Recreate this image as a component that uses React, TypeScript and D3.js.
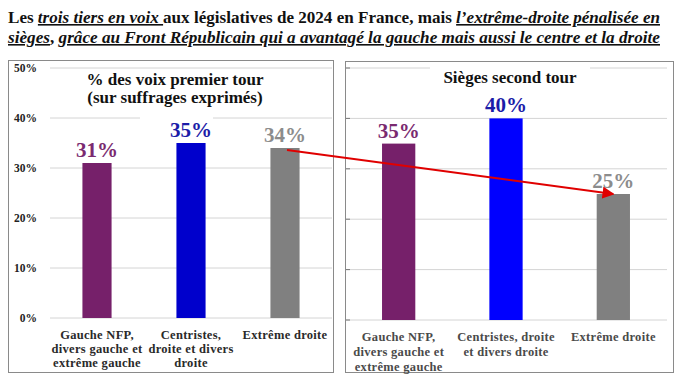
import React from "react";
import * as d3 from "d3";

const categoriesLeft = ["Gauche NFP, divers gauche et extrême gauche", "Centristes, droite et divers droite", "Extrême droite"];
const labelLinesLeft = [["Gauche NFP,", "divers gauche et", "extrême gauche"], ["Centristes,", "droite et divers", "droite"], ["Extrême droite"]];
const labelLinesRight = [["Gauche NFP,", "divers gauche et", "extrême gauche"], ["Centristes, droite", "et divers droite"], ["Extrême droite"]];
const votesFirstRound = [31, 35, 34];
const seatsSecondRound = [35, 40, 25];
const yTicks = [0, 10, 20, 30, 40, 50];
const barColorsLeft = ["#76206A", "#0000CC", "#808080"];
const barColorsRight = ["#76206A", "#0000FF", "#808080"];
const labelColors = ["#7A2A70", "#1C1CA8", "#8C8C8C"];

const SERIF = "'Liberation Serif', 'Times New Roman', Times, serif";
const tf = { fontFamily: SERIF };

export default function App() {
  const xL = d3.scaleBand<string>().domain(categoriesLeft).range([50, 332]).paddingInner(0.69).paddingOuter(0.345);
  const yL = d3.scaleLinear().domain([0, 50]).range([318, 68]);
  const xR = d3.scaleBand<string>().domain(categoriesLeft).range([345, 667]).paddingInner(0.69).paddingOuter(0.345);
  const yR = d3.scaleLinear().domain([0, 50]).range([320, 68]);

  const arrowStart = [xL("Extrême droite")! + xL.bandwidth() / 2 + 2, yL(votesFirstRound[2]) + 2];
  const arrowEnd = [xR("Extrême droite")! + xR.bandwidth() / 2, yR(seatsSecondRound[2])];

  return (
    <div style={{ position: "fixed", left: 0, top: 0 }}>
      <svg width={684} height={384} style={{ display: "block", background: "#fff", fontFamily: SERIF }}>
        <defs>
          <marker id="ah" viewBox="0 0 10 10" refX="9" refY="5" markerWidth="6" markerHeight="6" orient="auto">
            <path d="M0,0 L10,5 L0,10 z" fill="#E00000" />
          </marker>
        </defs>
        {/* Title */}
        <text x={8} y={23} fontSize={16} fontWeight="bold" fill="#111" style={tf} textLength={652} lengthAdjust="spacingAndGlyphs">
          <tspan>Les </tspan>
          <tspan fontStyle="italic" textDecoration="underline">trois tiers en voix </tspan>
          <tspan>aux législatives de 2024 en France, mais </tspan>
          <tspan fontStyle="italic" textDecoration="underline">l’extrême-droite pénalisée en</tspan>
        </text>
        <text x={8} y={43} fontSize={16} fontWeight="bold" fill="#111" style={tf} textLength={652} lengthAdjust="spacingAndGlyphs">
          <tspan fontStyle="italic" textDecoration="underline">sièges</tspan>
          <tspan>, </tspan>
          <tspan fontStyle="italic" textDecoration="underline">grâce au Front Républicain qui a avantagé la gauche mais aussi le centre et la droite</tspan>
        </text>

        {/* Left panel */}
        <rect x={8.5} y={60.5} width={325} height={312} fill="#fff" stroke="#8a8a8a" />
        {yTicks.map((t) => (
          <g key={"l" + t}>
            <line x1={50} x2={332} y1={yL(t)} y2={yL(t)} stroke="#d4d4d4" />
            <text x={37} y={yL(t) + 4} fontSize={11.5} fontWeight="bold" textAnchor="end" fill="#222" style={tf}>{t}%</text>
          </g>
        ))}
        <rect x={77} y={70} width={190} height={38} fill="#fff" />
        <rect x={140} y={108} width={73} height={14} fill="#fff" />
        <text x={175} y={85} fontSize={17} fontWeight="bold" textAnchor="middle" fill="#111" style={tf}>% des voix premier tour</text>
        <text x={175} y={103} fontSize={17} fontWeight="bold" textAnchor="middle" fill="#111" style={tf}>(sur suffrages exprimés)</text>
        {categoriesLeft.map((c, i) => (
          <g key={"lb" + i}>
            <rect x={xL(c)} y={yL(votesFirstRound[i])} width={xL.bandwidth()} height={yL(0) - yL(votesFirstRound[i])} fill={barColorsLeft[i]} />
            <text x={xL(c)! + xL.bandwidth() / 2} y={yL(votesFirstRound[i]) - 6} fontSize={21} fontWeight="bold" textAnchor="middle" fill={labelColors[i]} style={tf}>{votesFirstRound[i]}%</text>
            {labelLinesLeft[i].map((l, j) => (
              <text key={j} x={xL(c)! + xL.bandwidth() / 2} y={339 + j * 14} fontSize={12.5} fontWeight="bold" textAnchor="middle" fill="#2a2a2a" style={tf} letterSpacing={0.3}>{l}</text>
            ))}
          </g>
        ))}

        {/* Right panel */}
        <rect x={345.5} y={61.5} width={328} height={311} fill="#fff" stroke="#8a8a8a" />
        {yTicks.map((t) => (
          <g key={"r" + t}>
            <line x1={346} x2={667} y1={yR(t)} y2={yR(t)} stroke="#d4d4d4" />
            <line x1={346} x2={350} y1={yR(t)} y2={yR(t)} stroke="#777" />
          </g>
        ))}
        <rect x={430} y={64} width={160} height={24} fill="#fff" />
        <text x={510} y={83} fontSize={17} fontWeight="bold" textAnchor="middle" fill="#111" style={tf}>Sièges second tour</text>
        {categoriesLeft.map((c, i) => (
          <g key={"rb" + i}>
            <rect x={xR(c)} y={yR(seatsSecondRound[i])} width={xR.bandwidth()} height={yR(0) - yR(seatsSecondRound[i])} fill={barColorsRight[i]} />
            <text x={xR(c)! + xR.bandwidth() / 2} y={yR(seatsSecondRound[i]) - 6} fontSize={21} fontWeight="bold" textAnchor="middle" fill={labelColors[i]} style={tf}>{seatsSecondRound[i]}%</text>
            {labelLinesRight[i].map((l, j) => (
              <text key={j} x={xR(c)! + xR.bandwidth() / 2} y={341 + j * 15} fontSize={12.5} fontWeight="bold" textAnchor="middle" fill="#4a4a4a" style={tf} letterSpacing={0.3}>{l}</text>
            ))}
          </g>
        ))}

        {/* Arrow */}
        <line x1={arrowStart[0]} y1={arrowStart[1]} x2={arrowEnd[0]} y2={arrowEnd[1]} stroke="#E00000" strokeWidth={2} markerEnd="url(#ah)" />
      </svg>
    </div>
  );
}
